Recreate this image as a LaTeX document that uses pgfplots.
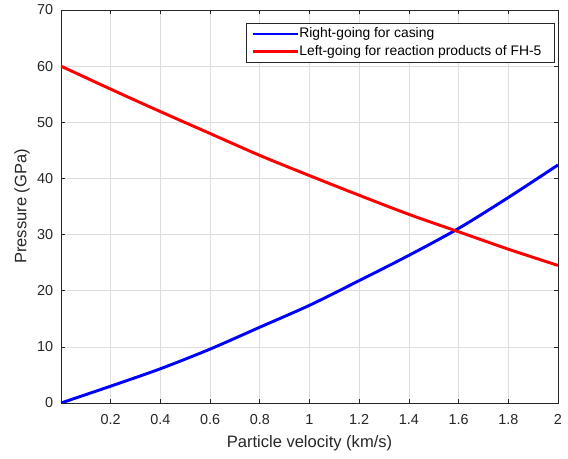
\documentclass[border=0pt]{standalone}
\usepackage{fontspec}
\setmainfont{Liberation Sans}
\usepackage{pgfplots}
\pgfplotsset{compat=1.18}
\definecolor{axgray}{gray}{0.15}
\definecolor{gridgray}{gray}{0.87}
\begin{document}
\begin{tikzpicture}
\begin{axis}[
  scale only axis,
  width=372.75pt, height=294.75pt,
  xmin=0, xmax=2, ymin=0, ymax=70,
  xtick={0.2,0.4,0.6,0.8,1.0,1.2,1.4,1.6,1.8,2.0},
  xticklabels={0.2,0.4,0.6,0.8,1,1.2,1.4,1.6,1.8,2},
  ytick={0,10,20,30,40,50,60,70},
  /pgf/number format/assume math mode=true,
  tick align=inside,
  major tick length=3pt,
  tick style={axgray, line width=0.5pt},
  axis line style={axgray, line width=0.6pt},
  grid=major,
  major grid style={gridgray, line width=0.5pt},
  ticklabel style={font=\fontsize{10.8pt}{12pt}\selectfont, text=axgray},
  xticklabel style={yshift=-5.2pt},
  yticklabel style={xshift=-2.4pt},
  xlabel={Particle velocity (km/s)},
  ylabel={Pressure (GPa)},
  label style={font=\fontsize{12.4pt}{14pt}\selectfont, text=axgray},
  xlabel style={at={(axis description cs:0.5,0)}, anchor=base, yshift=-33.5pt},
  ylabel style={at={(axis description cs:-0.0785,0.5)}, anchor=center},
  legend cell align=left,
  legend style={
    at={(rel axis cs:1,1)}, anchor=north east,
    xshift=-2.25pt, yshift=-9.75pt,
    draw=axgray, fill=white,
    inner xsep=3.5pt, inner ysep=3.2pt,
    row sep=3.6pt,
    font=\fontsize{10.4pt}{12pt}\selectfont,
    nodes={inner xsep=0pt, inner ysep=0pt, text height=7.5pt, text depth=2.2pt},
    /tikz/every even column/.append style={column sep=3.75pt},
  },
  legend image code/.code={\draw[#1] (0pt,0pt) -- (34pt,0pt);},
]
\addplot[blue, line width=2.2pt, smooth] coordinates {
  (0,0) (0.2,3.0) (0.4,6.1) (0.6,9.6) (0.8,13.5) (1.0,17.4)
  (1.2,21.8) (1.4,26.3) (1.6,31.1) (1.8,36.6) (2.0,42.4)
};
\addlegendentry{Right-going for casing}
\addplot[red, line width=2.2pt, smooth] coordinates {
  (0,60.0) (0.2,55.9) (0.4,51.9) (0.6,48.0) (0.8,44.1) (1.0,40.5)
  (1.2,37.0) (1.4,33.6) (1.6,30.5) (1.8,27.4) (2.0,24.5)
};
\addlegendentry{Left-going for reaction products of FH-5\hspace*{6.5pt}}
\end{axis}
\pgfresetboundingbox
\path (current axis.south west) ++(-45.75pt,-42pt);
\path (current axis.north east) ++(7.5pt,7.5pt);
\end{tikzpicture}
\end{document}
